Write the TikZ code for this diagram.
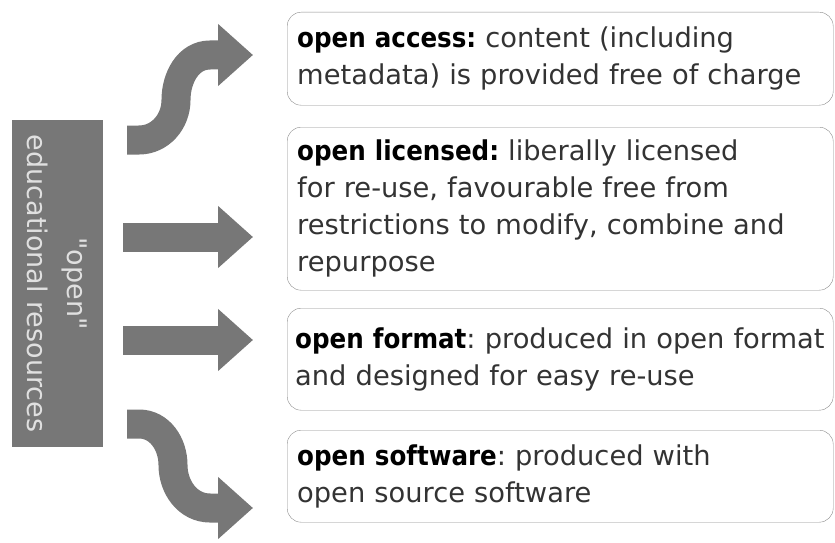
\documentclass[tikz,border=0pt]{standalone}
\usepackage{fontspec}
\setmainfont{DejaVu Sans}[BoldFont={DejaVu Sans Condensed Bold}]
\newfontfamily\oerfont{DejaVu Sans}
\usetikzlibrary{arrows.meta}
\definecolor{arrowgray}{HTML}{777777}
\frenchspacing

\begin{document}
\begin{tikzpicture}[x=1pt,y=-1pt,
        box/.style={draw=black!45,rounded corners=14pt,anchor=north west,minimum width=546pt,
            text width=526pt,align=left,inner sep=10pt,text=black!80,font=\fontsize{27.3}{37}\selectfont},
        fat/.style={draw=arrowgray,line width=29pt,-{Triangle[width=60pt,length=35pt]}}]
    \useasboundingbox (0,0) rectangle (835,543);
    % left block
    \node[rotate=-90,fill=arrowgray,minimum width=327pt,minimum height=91pt,inner sep=0,align=center,
        text=black!12,font=\oerfont\fontsize{27}{40}\selectfont] (oer) at (57.5,283.5) {"open"\\educational resources};
    % boxes
    \node[box,minimum height=93pt] (access) at (287,12) {\textbf{\color{black}open access:} content (including\\metadata) is provided free of charge};
    \node[box,minimum height=163pt] (licensed) at (287,127) {\textbf{\color{black}open licensed:} liberally licensed\\for re-use, favourable free from\\restrictions to modify, combine and\\repurpose};
    \node[box,minimum height=102pt,inner sep=8pt,text width=530pt] (format) at (287,308) {\textbf{\color{black}open format}: produced in open format\\and designed for easy re-use};
    \node[box,minimum height=92pt] (software) at (287,430) {\textbf{\color{black}open software}: produced with\\open source software};
    % arrows
    \coordinate (s1) at (127,140);
    \coordinate (s2) at (123,237);
    \coordinate (s3) at (123,340);
    \coordinate (s4) at (127,424);
    \draw[fat] (s1) -- ++(12,0) to[out=0,in=-90] (176,100) to[out=90,in=180] (210,55) -- ([xshift=-34pt]access.west |- 0,55);
    \draw[fat] (s2) -- ([xshift=-34pt]licensed.west |- s2);
    \draw[fat] (s3) -- ([xshift=-34pt]format.west |- s3);
    \draw[fat] (s4) -- ++(12,0) to[out=0,in=90] (173,465) to[out=-90,in=180] (210,508) -- ([xshift=-34pt]software.west |- 0,508);
\end{tikzpicture}
\end{document}
